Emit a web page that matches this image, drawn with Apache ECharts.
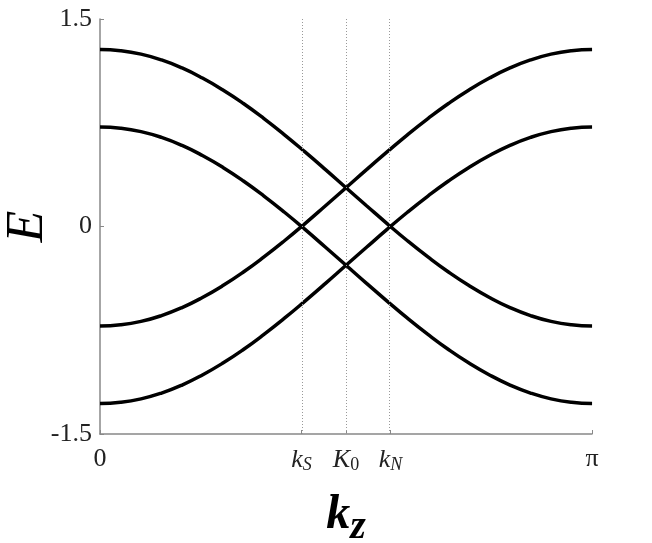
<!DOCTYPE html>
<html>
<head>
<meta charset="utf-8">
<script src="https://cdn.jsdelivr.net/npm/echarts@6/dist/echarts.min.js"></script>
<style>
  html, body { margin: 0; padding: 0; background: #fff; }
  #chart { width: 652px; height: 543px; }
</style>
</head>
<body>
<div id="chart"></div>
<script>
// kz 取样点 (0 .. π)
var kz = [0, 0.131, 0.262, 0.393, 0.524, 0.654, 0.785, 0.916, 1.047, 1.178, 1.309, 1.440,
  1.571, 1.702, 1.833, 1.963, 2.094, 2.225, 2.356, 2.487, 2.618, 2.749, 2.880, 3.011, 3.142];

// 四条能带
var band1 = [1.280, 1.271, 1.246, 1.204, 1.146, 1.073, 0.987, 0.889, 0.780, 0.663, 0.539, 0.411,
  0.280, 0.150, 0.021, -0.103, -0.220, -0.329, -0.427, -0.513, -0.586, -0.644, -0.686, -0.711, -0.720];
var band2 = [0.720, 0.711, 0.686, 0.644, 0.586, 0.513, 0.427, 0.329, 0.220, 0.103, -0.021, -0.150,
  -0.280, -0.411, -0.539, -0.663, -0.780, -0.889, -0.987, -1.073, -1.146, -1.204, -1.246, -1.271, -1.280];
var band3 = [-0.720, -0.711, -0.686, -0.644, -0.586, -0.513, -0.427, -0.329, -0.220, -0.103, 0.021, 0.150,
  0.280, 0.411, 0.539, 0.663, 0.780, 0.889, 0.987, 1.073, 1.146, 1.204, 1.246, 1.271, 1.280];
var band4 = [-1.280, -1.271, -1.246, -1.204, -1.146, -1.073, -0.987, -0.889, -0.780, -0.663, -0.539, -0.411,
  -0.280, -0.150, -0.021, 0.103, 0.220, 0.329, 0.427, 0.513, 0.586, 0.644, 0.686, 0.711, 0.720];

// 横轴特殊点
var xTicks = [0, 1.287, 1.571, 1.855, 3.14159];
var xTickLabels = ["{n|0}", "{i|k}{si|S}", "{i|K}{s|0}", "{i|k}{si|N}", "{n|π}"];
var markPoints = [1.287, 1.571, 1.855];

var serif = "Liberation Serif";

function pairs(ys) {
  var out = [];
  for (var i = 0; i < kz.length; i++) out.push([kz[i], ys[i]]);
  return out;
}

var myChart = echarts.init(document.getElementById("chart"));

var bands = [band1, band2, band3, band4];
var series = [];
for (var b = 0; b < bands.length; b++) {
  var s = {
    type: "line",
    data: pairs(bands[b]),
    showSymbol: false,
    smooth: true,
    lineStyle: { color: "#000", width: 3.5 },
    z: 3
  };
  if (b == 0) {
    //虚线
    s.markLine = {
      silent: true,
      symbol: "none",
      label: { show: false },
      lineStyle: { type: [1, 2], color: "#999", width: 1 },
      data: markPoints.map(function(v) { return { xAxis: v }; })
    };
  }
  series.push(s);
}

var option = {
  animation: false,
  backgroundColor: "#fff",
  grid: { left: 100, right: 60, top: 19, bottom: 109, outerBoundsMode: "none", containLabel: false },
  xAxis: {
    type: "value",
    min: 0,
    max: 3.14159,
    name: "{k|k}{z|z}",
    nameLocation: "middle",
    nameGap: 50,
    nameMoveOverlap: false,
    nameTextStyle: {
      rich: {
        k: { fontFamily: serif, fontStyle: "italic", fontWeight: "bold", fontSize: 48, color: "#000" },
        z: { fontFamily: serif, fontStyle: "italic", fontWeight: "bold", fontSize: 40, color: "#000", padding: [24, 0, 0, 0] }
      }
    },
    axisLine: { onZero: false, lineStyle: { color: "#888", width: 1.5 } },
    axisTick: { inside: true, length: 4, customValues: xTicks, lineStyle: { color: "#888" } },
    splitLine: { show: false },
    axisLabel: {
      customValues: xTicks,
      margin: 12,
      formatter: function(v) {
        for (var i = 0; i < xTicks.length; i++) {
          if (Math.abs(v - xTicks[i]) < 1e-3) return xTickLabels[i];
        }
        return "";
      },
      rich: {
        n: { fontFamily: serif, fontSize: 26, color: "#222" },
        i: { fontFamily: serif, fontStyle: "italic", fontSize: 26, color: "#222" },
        si: { fontFamily: serif, fontStyle: "italic", fontSize: 18, color: "#222", padding: [10, 0, 0, 0] },
        s: { fontFamily: serif, fontSize: 18, color: "#222", padding: [10, 0, 0, 0] }
      }
    }
  },
  yAxis: {
    type: "value",
    min: -1.5,
    max: 1.5,
    interval: 1.5,
    name: "E",
    nameLocation: "middle",
    nameRotate: 90,
    nameGap: 46,
    nameMoveOverlap: false,
    nameTextStyle: { fontFamily: serif, fontStyle: "italic", fontSize: 52, color: "#000" },
    axisLine: { show: true, onZero: false, lineStyle: { color: "#888", width: 1.5 } },
    axisTick: { show: true, inside: true, length: 4, lineStyle: { color: "#888" } },
    splitLine: { show: false },
    axisLabel: {
      margin: 8,
      fontFamily: serif,
      fontSize: 26,
      color: "#222",
      formatter: function(v) { return String(v); }
    }
  },
  series: series
};

myChart.setOption(option, true);
</script>
</body>
</html>
